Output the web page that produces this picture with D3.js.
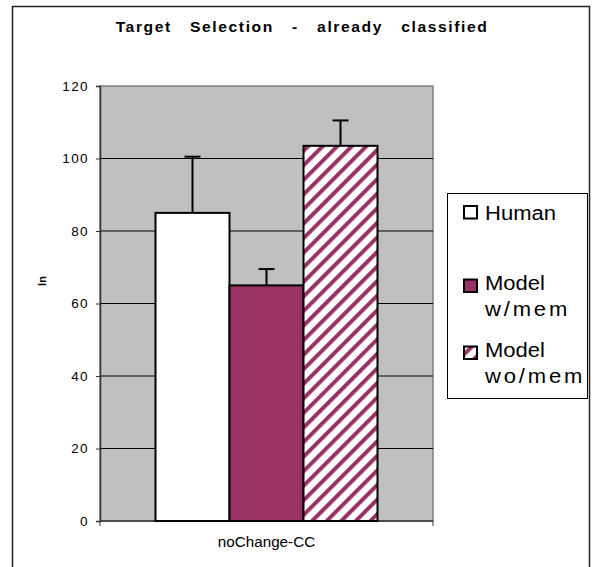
<!DOCTYPE html>
<html><head><meta charset="utf-8">
<script src="https://cdn.jsdelivr.net/npm/d3@7"></script>
<style>body{margin:0;background:#fff}svg{display:block}text{font-family:"Liberation Sans",Arial,sans-serif}</style>
</head><body>
<svg id="c" width="592" height="567"></svg>
<script>
const title = "Target Selection - already classified";
const categories = ["noChange-CC"];
const series = ["Human", "Model w/mem", "Model wo/mem"];
const legendLines = [["Human"], ["Model", "w/mem"], ["Model", "wo/mem"]];
const means = [85, 65, 103.5];
const errors = [15.5, 4.5, 7];
const yTicks = [0, 20, 40, 60, 80, 100, 120];
const yLabel = "ln";

const svg = d3.select("#c");
const purple = "#993366";
const SX = 1.15;

const defs = svg.append("defs");
const pat = defs.append("pattern").attr("id", "hatch")
  .attr("patternUnits", "userSpaceOnUse").attr("width", 10.3).attr("height", 10.3)
  .attr("patternTransform", "rotate(45)");
pat.append("rect").attr("width", 10.3).attr("height", 10.3).attr("fill", "#fff");
pat.append("rect").attr("width", 4).attr("height", 10.3).attr("fill", purple);
const fills = ["#ffffff", purple, "url(#hatch)"];

// outer frame
svg.append("rect").attr("x", 12.5).attr("y", 6.5).attr("width", 577).attr("height", 600)
  .attr("fill", "#fff").attr("stroke", "#222").attr("stroke-width", 1.5);

function txt(x, y, s, o) {
  const t = svg.append("text")
    .attr("transform", `translate(${x},${y}) scale(${o.sx || SX},1)`)
    .attr("text-anchor", o.anchor || "start")
    .attr("font-size", o.size).attr("font-weight", o.weight || "normal")
    .style("letter-spacing", (o.ls || 0) + "px")
    .style("word-spacing", (o.ws || 0) + "px")
    .attr("fill", "#000").text(s);
  return t;
}

txt(302, 32, title, {size: 14, weight: "bold", ls: 1.4, ws: 11, anchor: "middle", sx: 1.12});

const pl = 100, pr = 433, pt = 86, pb = 521;
const y = d3.scaleLinear().domain([0, 120]).range([pb, pt]);
const x0 = d3.scaleBand().domain(categories).range([pl, pr]).paddingInner(0).paddingOuter(0.25);
const x1 = d3.scaleBand().domain(series).range([0, x0.bandwidth()]).padding(0);

// plot area
svg.append("rect").attr("x", pl).attr("y", pt).attr("width", pr - pl).attr("height", pb - pt)
  .attr("fill", "#c0c0c0").attr("stroke", "#808080").attr("stroke-width", 1.5);

// gridlines
svg.append("g").selectAll("line").data(yTicks.filter(d => d > 0 && d < 120)).join("line")
  .attr("x1", pl).attr("x2", pr).attr("y1", d => y(d)).attr("y2", d => y(d))
  .attr("stroke", "#000").attr("stroke-width", 1);

// y axis
const ya = svg.append("g").attr("transform", `translate(${pl},0)`)
  .call(d3.axisLeft(y).tickValues(yTicks).tickSize(4).tickPadding(7));
ya.select(".domain").attr("stroke", "#333").attr("stroke-width", 1.5);
ya.selectAll(".tick line").attr("stroke", "#333");
ya.selectAll(".tick text").attr("font-size", 13.5).attr("fill", "#000")
  .style("letter-spacing", "1.4px").attr("font-family", "'Liberation Sans',Arial,sans-serif");

// x axis
const xa = svg.append("g").attr("transform", `translate(0,${pb})`)
  .call(d3.axisBottom(x0).tickSize(0).tickFormat(""));
xa.select(".domain").remove();
svg.append("line").attr("x1", pl).attr("x2", pr).attr("y1", pb).attr("y2", pb)
  .attr("stroke", "#333").attr("stroke-width", 1.5);
[pl, pr].forEach(v => svg.append("line").attr("x1", v).attr("x2", v).attr("y1", pb).attr("y2", pb + 5)
  .attr("stroke", "#333").attr("stroke-width", 1));
categories.forEach(c => txt(x0(c) + x0.bandwidth() / 2, 547, c, {size: 14.5, anchor: "middle", sx: 1.05}));

// bars
const data = series.map((s, i) => ({s, i, m: means[i], e: errors[i], c: categories[0]}));
const bars = svg.append("g");
bars.selectAll("rect").data(data).join("rect")
  .attr("x", d => x0(d.c) + x1(d.s)).attr("width", x1.bandwidth())
  .attr("y", d => y(d.m)).attr("height", d => y(0) - y(d.m))
  .attr("fill", d => fills[d.i]).attr("stroke", "#000").attr("stroke-width", 2);

// error bars
const eb = svg.append("g").attr("stroke", "#000").attr("stroke-width", 2);
data.forEach(d => {
  const cx = x0(d.c) + x1(d.s) + x1.bandwidth() / 2;
  eb.append("line").attr("x1", cx).attr("x2", cx).attr("y1", y(d.m)).attr("y2", y(d.m + d.e));
  eb.append("line").attr("x1", cx - 8).attr("x2", cx + 8).attr("y1", y(d.m + d.e)).attr("y2", y(d.m + d.e));
});

// y label
svg.append("text").attr("transform", "translate(46,281) rotate(-90)")
  .attr("text-anchor", "middle").attr("font-size", 11).attr("font-weight", "bold").text(yLabel);

// legend
svg.append("rect").attr("x", 447.5).attr("y", 193.5).attr("width", 140).attr("height", 205)
  .attr("fill", "#fff").attr("stroke", "#000").attr("stroke-width", 1);
const swY = [206, 279.5, 346.5];
const baseY = [[219.5], [290, 316], [357, 383]];
legendLines.forEach((lines, i) => {
  svg.append("rect").attr("x", 464).attr("y", swY[i]).attr("width", 13).attr("height", 12.5)
    .attr("fill", fills[i]).attr("stroke", "#000").attr("stroke-width", 2);
  lines.forEach((l, j) => txt(485, baseY[i][j], l, {size: 19.5, sx: 1.13, ls: j === 0 ? 0 : 2.5}));
});
</script>
</body></html>
